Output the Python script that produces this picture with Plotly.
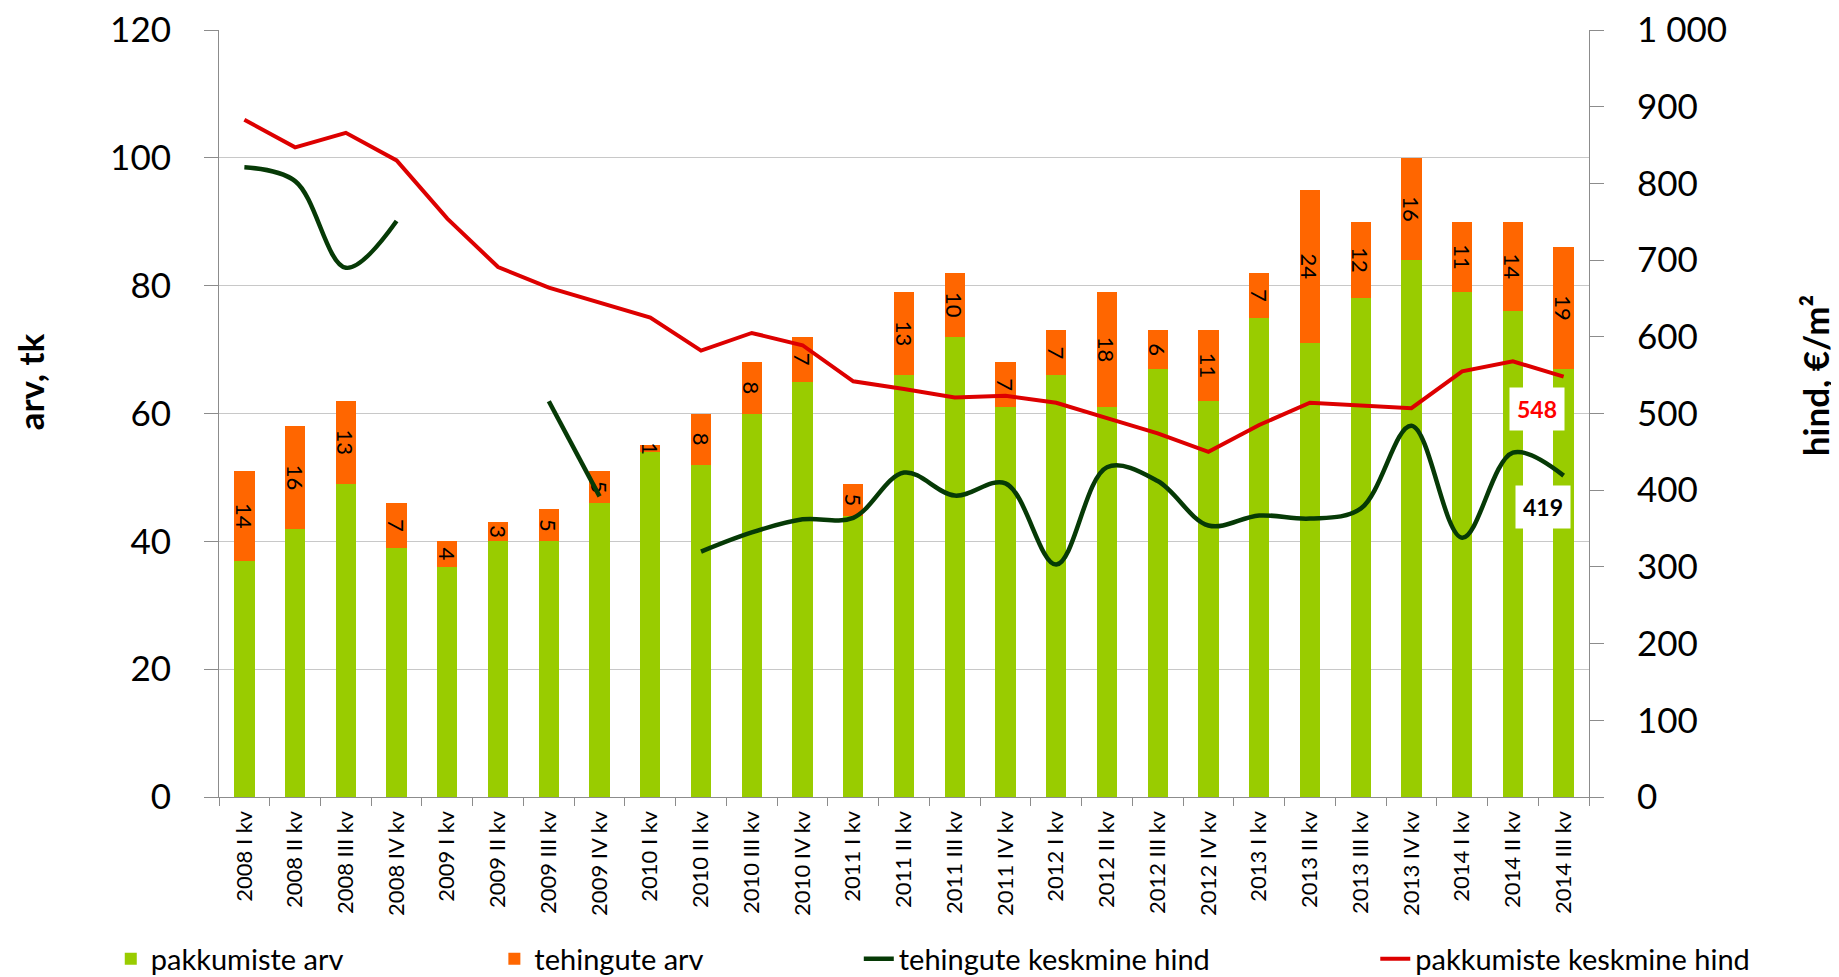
import plotly.graph_objects as go


# ======================================================
# Data
# ======================================================

quarters = [
    "2008 I kv", "2008 II kv", "2008 III kv", "2008 IV kv",
    "2009 I kv", "2009 II kv", "2009 III kv", "2009 IV kv",
    "2010 I kv", "2010 II kv", "2010 III kv", "2010 IV kv",
    "2011 I kv", "2011 II kv", "2011 III kv", "2011 IV kv",
    "2012 I kv", "2012 II kv", "2012 III kv", "2012 IV kv",
    "2013 I kv", "2013 II kv", "2013 III kv", "2013 IV kv",
    "2014 I kv", "2014 II kv", "2014 III kv",
]

offers_count = [37, 42, 49, 39, 36, 40, 40, 46, 54, 52, 60, 65, 44, 66,
                72, 61, 66, 61, 67, 62, 75, 71, 78, 84, 79, 76, 67]

deals_count = [14, 16, 13, 7, 4, 3, 5, 5, 1, 8, 8, 7, 5, 13,
               10, 7, 7, 18, 6, 11, 7, 24, 12, 16, 11, 14, 19]

deal_price = [821, 803, 690, 751, None, None, 516, 392, None, 320, 345,
              362, 364, 423, 393, 409, 303, 430, 412, 354, 367, 363,
              376, 484, 338, 449, 419]

offer_price = [883, 847, 866, 830, 754, 691, 664, 644, 625, 582, 605,
               589, 542, 532, 521, 523, 514, 494, 474, 450, 485, 514,
               511, 507, 555, 568, 548]

GREEN = "#99CC00"
ORANGE = "#FF6600"
DARK = "#063A06"
RED = "#DD0000"
GRID = "#C8C8C8"
AXIS = "#8C8C8C"


# ======================================================
# Traces
# ======================================================

fig = go.Figure()

fig.add_trace(go.Bar(
    x=quarters,
    y=offers_count,
    name="pakkumiste arv",
    marker=dict(color=GREEN, line=dict(width=0)),
    showlegend=True,
    legend="legend",
))

fig.add_trace(go.Bar(
    x=quarters,
    y=deals_count,
    name="tehingute arv",
    marker=dict(color=ORANGE, line=dict(width=0)),
    text=deals_count,
    textposition="inside",
    insidetextanchor="middle",
    textangle=90,
    constraintext="none",
    textfont=dict(family="Lato", size=22, color="black"),
    showlegend=True,
    legend="legend2",
))

fig.add_trace(go.Scatter(
    x=quarters,
    y=deal_price,
    yaxis="y2",
    mode="lines",
    name="tehingute keskmine hind",
    line=dict(color=DARK, width=4.5, shape="spline", smoothing=1.0),
    connectgaps=False,
    showlegend=True,
    legend="legend3",
))

fig.add_trace(go.Scatter(
    x=quarters,
    y=offer_price,
    yaxis="y2",
    mode="lines",
    name="pakkumiste keskmine hind",
    line=dict(color=RED, width=4),
    showlegend=True,
    legend="legend4",
))


# ======================================================
# Last value labels
# ======================================================

fig.add_annotation(
    x=quarters[-1], y=offer_price[-1], xref="x", yref="y2",
    text=f"<b>{offer_price[-1]}</b>", showarrow=False,
    xshift=-27, yshift=-32,
    font=dict(family="Lato", size=23, color="#FF0000"),
    bgcolor="white", borderpad=7,
)

fig.add_annotation(
    x=quarters[-1], y=deal_price[-1], xref="x", yref="y2",
    text=f"<b>{deal_price[-1]}</b>", showarrow=False,
    xshift=-21, yshift=-31,
    font=dict(family="Lato", size=23, color="black"),
    bgcolor="white", borderpad=7,
)


# ======================================================
# Axis titles
# ======================================================

fig.add_annotation(
    x=-0.138, y=0.542, xref="paper", yref="paper",
    xanchor="center", yanchor="middle",
    text="<b>arv, tk</b>", textangle=-90, showarrow=False,
    font=dict(family="Lato", size=35, color="black"),
)

fig.add_annotation(
    x=1.165, y=0.55, xref="paper", yref="paper",
    xanchor="center", yanchor="middle",
    text="<b>hind, €/m²</b>", textangle=-90, showarrow=False,
    font=dict(family="Lato", size=35, color="black"),
)


# ======================================================
# Layout
# (page body adds an 8px offset, so the figure is 8px smaller)
# ======================================================

legend_style = dict(
    orientation="h",
    xanchor="left",
    yanchor="middle",
    y=-0.211,
    bgcolor="rgba(0,0,0,0)",
    font=dict(family="Lato", size=29, color="black"),
)

fig.update_layout(
    width=1831,
    height=969,
    barmode="stack",
    bargap=0.6,
    separators=". ",
    showlegend=True,
    plot_bgcolor="white",
    paper_bgcolor="white",
    font=dict(family="Lato", color="black"),
    margin=dict(l=211, r=250, t=22, b=180, autoexpand=False),
    legend=dict(legend_style, x=-0.079),
    legend2=dict(legend_style, x=0.201),
    legend3=dict(legend_style, x=0.467),
    legend4=dict(legend_style, x=0.844),
    xaxis=dict(
        tickangle=-90,
        tickson="boundaries",
        ticks="outside",
        ticklen=8,
        tickcolor=AXIS,
        showline=True,
        linecolor=AXIS,
        showgrid=False,
        automargin=False,
        tickfont=dict(family="Lato", size=22, color="black"),
        ticklabelstandoff=4,
    ),
    yaxis=dict(
        range=[0, 120],
        dtick=20,
        showgrid=True,
        gridcolor=GRID,
        gridwidth=1.3,
        zeroline=False,
        ticks="outside",
        ticklen=14,
        tickcolor=AXIS,
        showline=True,
        linecolor=AXIS,
        automargin=False,
        ticklabeloverflow="allow",
        tickfont=dict(family="Lato", size=35, color="black"),
        ticklabelstandoff=26,
    ),
    yaxis2=dict(
        overlaying="y",
        side="right",
        range=[0, 1000],
        dtick=100,
        tickformat=",d",
        showgrid=False,
        zeroline=False,
        ticks="outside",
        ticklen=14,
        tickcolor=AXIS,
        showline=True,
        linecolor=AXIS,
        automargin=False,
        ticklabeloverflow="allow",
        tickfont=dict(family="Lato", size=35, color="black"),
        ticklabelstandoff=26,
    ),
)

fig.write_html("out.html")
